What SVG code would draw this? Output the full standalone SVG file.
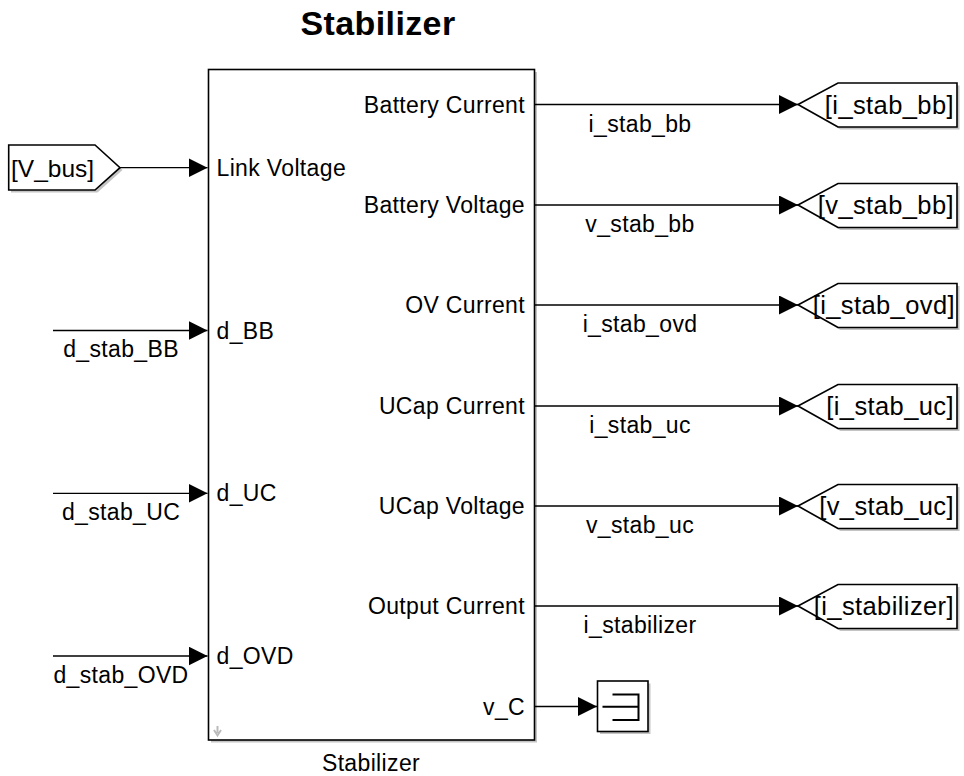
<svg xmlns="http://www.w3.org/2000/svg" width="964" height="776" viewBox="0 0 964 776">
<defs>
<marker id="ah" markerUnits="userSpaceOnUse" markerWidth="22" markerHeight="22" refX="19" refY="9.5" orient="auto">
<path d="M0,0 L19,9.5 L0,19 Z" fill="#000"/>
</marker>
</defs>
<style>
text{font-family:"Liberation Sans",Arial,sans-serif;fill:#000}
.title{font-size:34px;font-weight:bold;text-anchor:middle;letter-spacing:0.4px}
.port{font-size:23px;letter-spacing:0.35px}
.pr{text-anchor:end}
.sig{font-size:23px;text-anchor:middle;letter-spacing:0.35px}
.tag{font-size:25.5px;letter-spacing:0.4px}
.tagr{text-anchor:end}
.shape{fill:#fff;stroke:#000;stroke-width:1.6}
.shadow{fill:#c4c4c4;stroke:none}
.wire{stroke:#000;stroke-width:1.3;fill:none;marker-end:url(#ah)}
</style>
<rect width="964" height="776" fill="#fff"/>
<text class="title" x="378" y="35">Stabilizer</text>

<g id="stabilizer">
<rect class="shadow" x="211" y="72" width="326" height="670.5"/>
<rect class="shape" x="208.5" y="69.5" width="326" height="670.5" stroke-width="2"/>
<text class="port" x="216.5" y="175.5">Link Voltage</text>
<text class="port" x="216.5" y="338.5">d_BB</text>
<text class="port" x="216.5" y="501">d_UC</text>
<text class="port" x="216.5" y="664">d_OVD</text>
<text class="port pr" x="525" y="112.5">Battery Current</text>
<text class="port pr" x="525" y="213">Battery Voltage</text>
<text class="port pr" x="525" y="313">OV Current</text>
<text class="port pr" x="525" y="414">UCap Current</text>
<text class="port pr" x="525" y="514">UCap Voltage</text>
<text class="port pr" x="525" y="614">Output Current</text>
<text class="port pr" x="525" y="714.5">v_C</text>
<path d="M217.5,726 V733 M214,730 L217.5,735.5 L221,730" stroke="#bbb" stroke-width="2" fill="none"/>
<text class="sig" x="371" y="771">Stabilizer</text>
</g>

<g id="from_vbus">
<path class="shadow" d="M11,148 H97.5 L122.5,170 L97.5,192.5 H11 Z"/>
<path class="shape" d="M8.7,145 H95 L120,167.7 L95,190 H8.7 Z"/>
<text class="tag" x="11" y="177" style="font-size:24.5px;letter-spacing:0">[V_bus]</text>
</g>

<g id="goto_i_stab_bb">
<path class="shadow" d="M800.5,107 L840.5,85.5 H959.5 V129.5 H840.5 Z"/>
<path class="shape" d="M798,104.5 L838,83 H957 V127 H838 Z"/>
<text class="tag tagr" x="954" y="113.5">[i_stab_bb]</text>
</g>
<g id="goto_v_stab_bb">
<path class="shadow" d="M800.5,207.5 L840.5,186 H959.5 V230 H840.5 Z"/>
<path class="shape" d="M798,205 L838,183.5 H957 V227.5 H838 Z"/>
<text class="tag tagr" x="954" y="214">[v_stab_bb]</text>
</g>
<g id="goto_i_stab_ovd">
<path class="shadow" d="M800.5,307.5 L840.5,286 H959.5 V330 H840.5 Z"/>
<path class="shape" d="M798,305 L838,283.5 H957 V327.5 H838 Z"/>
<text class="tag tagr" x="955" y="314">[i_stab_ovd]</text>
</g>
<g id="goto_i_stab_uc">
<path class="shadow" d="M800.5,408.5 L840.5,387 H959.5 V431 H840.5 Z"/>
<path class="shape" d="M798,406 L838,384.5 H957 V428.5 H838 Z"/>
<text class="tag tagr" x="954" y="415">[i_stab_uc]</text>
</g>
<g id="goto_v_stab_uc">
<path class="shadow" d="M800.5,508.5 L840.5,487 H959.5 V531 H840.5 Z"/>
<path class="shape" d="M798,506 L838,484.5 H957 V528.5 H838 Z"/>
<text class="tag tagr" x="954" y="515">[v_stab_uc]</text>
</g>
<g id="goto_i_stabilizer">
<path class="shadow" d="M800.5,608.5 L840.5,587 H959.5 V631 H840.5 Z"/>
<path class="shape" d="M798,606 L838,584.5 H957 V628.5 H838 Z"/>
<text class="tag tagr" x="954" y="615">[i_stabilizer]</text>
</g>

<g id="scope">
<rect class="shadow" x="600" y="683.5" width="50.5" height="50.5"/>
<rect class="shape" x="597.5" y="681" width="50.5" height="50.5"/>
<path d="M612.5,694.5 H638.5 V720 H612.5 M602.5,706.8 H638.5" stroke="#000" stroke-width="2" fill="none"/>
</g>

<g id="connectors">
<line class="wire" x1="120" y1="167.7" x2="207.5" y2="167.7"/>
<line class="wire" x1="53" y1="330.5" x2="207.5" y2="330.5"/>
<line class="wire" x1="53" y1="493.3" x2="207.5" y2="493.3"/>
<line class="wire" x1="53" y1="656" x2="207.5" y2="656"/>
<line class="wire" x1="535" y1="104.5" x2="798" y2="104.5"/>
<line class="wire" x1="535" y1="205" x2="798" y2="205"/>
<line class="wire" x1="535" y1="305" x2="798" y2="305"/>
<line class="wire" x1="535" y1="406" x2="798" y2="406"/>
<line class="wire" x1="535" y1="506" x2="798" y2="506"/>
<line class="wire" x1="535" y1="606" x2="798" y2="606"/>
<line class="wire" x1="535" y1="706.5" x2="597" y2="706.5"/>
<text class="sig" x="121" y="357">d_stab_BB</text>
<text class="sig" x="121" y="520">d_stab_UC</text>
<text class="sig" x="121" y="683">d_stab_OVD</text>
<text class="sig" x="640" y="131.5">i_stab_bb</text>
<text class="sig" x="640" y="232">v_stab_bb</text>
<text class="sig" x="640" y="332">i_stab_ovd</text>
<text class="sig" x="640" y="433">i_stab_uc</text>
<text class="sig" x="640" y="533">v_stab_uc</text>
<text class="sig" x="640" y="633">i_stabilizer</text>
</g>
</svg>
